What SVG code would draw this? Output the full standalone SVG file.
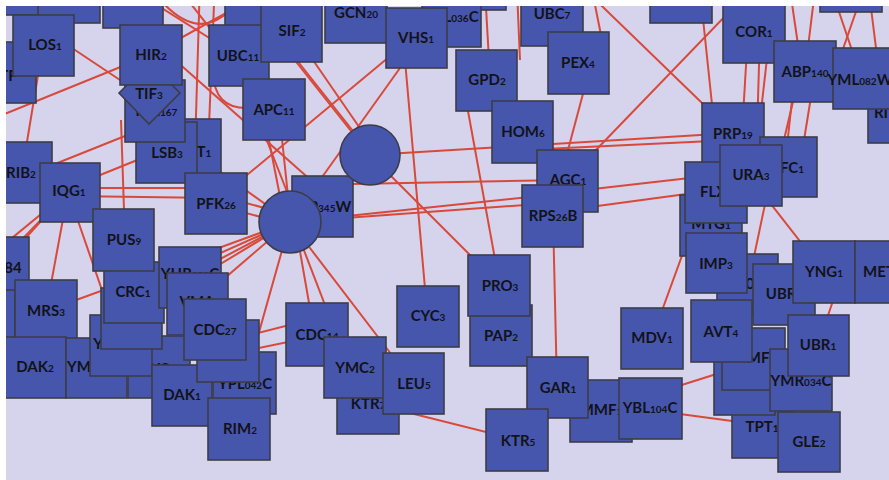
<svg xmlns="http://www.w3.org/2000/svg" width="889" height="480" viewBox="0 0 889 480">
<style>
.bg{fill:#d5d4ec}
.n rect,.n circle,.n polygon{fill:#4656ad;stroke:#3c3c48;stroke-width:1.6}
.n text{font-family:Lato,"Open Sans","DejaVu Sans",sans-serif;font-weight:700;font-size:15px;fill:#121218;text-anchor:middle}
.s{font-size:10px}
#edges line,#edges path{stroke:#d9493a;stroke-width:2;fill:none}
</style>
<rect class="bg" x="0" y="0" width="889" height="480"/>
<g id="edges">
<line x1="-10" y1="120" x2="150" y2="55"/>
<line x1="45" y1="30" x2="150" y2="100"/>
<line x1="43" y1="45" x2="22" y2="172"/>
<line x1="133" y1="-10" x2="238" y2="56"/>
<line x1="255" y1="-3" x2="150" y2="55"/>
<line x1="200" y1="-20" x2="195" y2="150"/>
<line x1="215" y1="-20" x2="208" y2="150"/>
<line x1="180" y1="-10" x2="274" y2="110"/>
<path d="M213 70 Q213 110 250 108"/>
<path d="M165 5 Q200 40 230 10"/>
<line x1="255" y1="10" x2="370" y2="155"/>
<line x1="265" y1="20" x2="372" y2="155"/>
<line x1="275" y1="5" x2="375" y2="150"/>
<line x1="370" y1="155" x2="733" y2="133"/>
<line x1="370" y1="155" x2="500" y2="285"/>
<line x1="400" y1="68" x2="290" y2="222"/>
<line x1="395" y1="52" x2="217" y2="200"/>
<line x1="405" y1="60" x2="426" y2="300"/>
<line x1="466" y1="100" x2="497" y2="270"/>
<line x1="553" y1="216" x2="557" y2="388"/>
<line x1="290" y1="222" x2="567" y2="193"/>
<line x1="290" y1="222" x2="553" y2="203"/>
<line x1="300" y1="185" x2="567" y2="180"/>
<line x1="298" y1="240" x2="312" y2="320"/>
<line x1="300" y1="240" x2="350" y2="370"/>
<line x1="300" y1="235" x2="414" y2="384"/>
<line x1="390" y1="408" x2="518" y2="440"/>
<line x1="290" y1="222" x2="245" y2="382"/>
<line x1="230" y1="340" x2="317" y2="318"/>
<line x1="240" y1="352" x2="317" y2="336"/>
<line x1="290" y1="222" x2="190" y2="275"/>
<line x1="290" y1="222" x2="197" y2="302"/>
<line x1="290" y1="222" x2="133" y2="292"/>
<line x1="290" y1="222" x2="46" y2="311"/>
<line x1="290" y1="222" x2="131" y2="318"/>
<line x1="217" y1="195" x2="290" y2="215"/>
<line x1="217" y1="205" x2="290" y2="225"/>
<line x1="68" y1="188" x2="217" y2="188"/>
<line x1="68" y1="196" x2="217" y2="198"/>
<line x1="68" y1="192" x2="0" y2="262"/>
<line x1="68" y1="192" x2="-5" y2="252"/>
<line x1="60" y1="200" x2="-5" y2="272"/>
<line x1="68" y1="192" x2="46" y2="311"/>
<line x1="68" y1="192" x2="121" y2="345"/>
<line x1="121" y1="120" x2="125" y2="240"/>
<line x1="265" y1="120" x2="285" y2="222"/>
<line x1="280" y1="120" x2="290" y2="215"/>
<line x1="255" y1="110" x2="300" y2="225"/>
<line x1="190" y1="150" x2="290" y2="222"/>
<line x1="175" y1="60" x2="322" y2="190"/>
<line x1="20" y1="178" x2="150" y2="126"/>
<line x1="68" y1="188" x2="167" y2="148"/>
<line x1="575" y1="-20" x2="733" y2="133"/>
<line x1="760" y1="-20" x2="567" y2="180"/>
<line x1="700" y1="-10" x2="715" y2="133"/>
<line x1="748" y1="32" x2="742" y2="133"/>
<line x1="760" y1="32" x2="757" y2="133"/>
<line x1="770" y1="32" x2="760" y2="120"/>
<line x1="800" y1="72" x2="778" y2="165"/>
<line x1="795" y1="72" x2="785" y2="165"/>
<line x1="815" y1="72" x2="800" y2="165"/>
<line x1="790" y1="-10" x2="802" y2="72"/>
<line x1="815" y1="-10" x2="805" y2="72"/>
<line x1="835" y1="0" x2="862" y2="80"/>
<line x1="860" y1="0" x2="835" y2="72"/>
<line x1="870" y1="0" x2="880" y2="80"/>
<line x1="523" y1="150" x2="733" y2="140"/>
<line x1="588" y1="75" x2="560" y2="180"/>
<line x1="592" y1="-10" x2="602" y2="40"/>
<line x1="485" y1="-10" x2="489" y2="60"/>
<line x1="517" y1="-10" x2="520" y2="60"/>
<line x1="567" y1="192" x2="716" y2="175"/>
<line x1="553" y1="212" x2="716" y2="190"/>
<line x1="768" y1="190" x2="748" y2="285"/>
<line x1="760" y1="190" x2="824" y2="272"/>
<line x1="695" y1="220" x2="652" y2="338"/>
<line x1="840" y1="280" x2="818" y2="345"/>
<line x1="650" y1="395" x2="745" y2="365"/>
<line x1="650" y1="410" x2="762" y2="425"/>
</g>
<!-- top row, mostly cut off -->
<g id="n-top1" class="n"><rect x="-21" y="-46" width="61" height="61"/></g>
<g id="n-top2" class="n"><rect x="38" y="-38" width="62" height="61"/></g>
<g id="n-top3" class="n"><rect x="103" y="-33" width="60" height="61"/></g>
<g id="n-top4" class="n"><rect x="225" y="-34" width="60" height="61"/></g>
<!-- upper left cluster -->
<g id="n-TF" class="n"><rect x="-25" y="42" width="61" height="61"/><text x="8" y="81">TF</text></g>
<g id="n-LOS1" class="n"><rect x="13" y="15" width="61" height="61"/><text x="45" y="50">LOS<tspan class="s">1</tspan></text></g>
<g id="n-T1" class="n"><rect x="160" y="119" width="61" height="62"/><text x="204" y="157">T<tspan class="s">1</tspan></text></g>
<g id="n-LSB3" class="n"><rect x="136" y="122" width="61" height="61"/><text x="167" y="158">LSB<tspan class="s">3</tspan></text></g>
<g id="n-Y167" class="n"><rect x="125" y="80" width="60" height="62"/><text x="155" y="116">YLR<tspan class="s">167</tspan></text></g>
<g id="n-HIR2" class="n"><rect x="120" y="25" width="62" height="60"/><text x="151" y="60">HIR<tspan class="s">2</tspan></text></g>
<g id="n-TIF3" class="n"><polygon points="119,93 127,85 172,85 180,93 149,124"/><text x="149" y="99">TIF<tspan class="s">3</tspan></text></g>
<g id="n-UBC11" class="n"><rect x="209" y="25" width="60" height="61"/><text x="238" y="61">UBC<tspan class="s">11</tspan></text></g>
<g id="n-SIF2" class="n"><rect x="261" y="0" width="61" height="62"/><text x="292" y="36">SIF<tspan class="s">2</tspan></text></g>
<g id="n-APC11" class="n"><rect x="243" y="79" width="62" height="61"/><text x="274" y="115">APC<tspan class="s">11</tspan></text></g>
<!-- upper middle -->
<g id="n-GCN20" class="n"><rect x="325" y="-18" width="62" height="61"/><text x="356" y="18">GCN<tspan class="s">20</tspan></text></g>
<g id="n-top5" class="n"><rect x="447" y="-51" width="59" height="61"/></g>
<g id="n-L036C" class="n"><rect x="422" y="-14" width="59" height="61"/><text x="461" y="22">L<tspan class="s">036</tspan>C</text></g>
<g id="n-VHS1" class="n"><rect x="386" y="8" width="61" height="60"/><text x="416" y="43">VHS<tspan class="s">1</tspan></text></g>
<g id="n-UBC7" class="n"><rect x="521" y="-15" width="62" height="61"/><text x="552" y="19">UBC<tspan class="s">7</tspan></text></g>
<g id="n-PEX4" class="n"><rect x="548" y="32" width="61" height="62"/><text x="578" y="68">PEX<tspan class="s">4</tspan></text></g>
<g id="n-GPD2" class="n"><rect x="456" y="50" width="61" height="61"/><text x="487" y="85">GPD<tspan class="s">2</tspan></text></g>
<g id="n-HOM6" class="n"><rect x="492" y="101" width="61" height="62"/><text x="523" y="137">HOM<tspan class="s">6</tspan></text></g>
<!-- upper right -->
<g id="n-top6" class="n"><rect x="650" y="-38" width="62" height="61"/></g>
<g id="n-COR1" class="n"><rect x="723" y="2" width="62" height="61"/><text x="754" y="37">COR<tspan class="s">1</tspan></text></g>
<g id="n-top7" class="n"><rect x="820" y="-49" width="62" height="61"/></g>
<g id="n-RI" class="n"><rect x="868" y="82" width="62" height="61"/><text x="881" y="118">RI</text></g>
<g id="n-ABP140" class="n"><rect x="774" y="41" width="62" height="61"/><text x="805" y="77">ABP<tspan class="s">140</tspan></text></g>
<g id="n-YML082W" class="n"><rect x="833" y="48" width="62" height="61"/><text x="860" y="85">YML<tspan class="s">082</tspan>W</text></g>
<!-- left side -->
<g id="n-RIB2" class="n"><rect x="-9" y="142" width="61" height="61"/><text x="21" y="178">RIB<tspan class="s">2</tspan></text></g>
<g id="n-IQG1" class="n"><rect x="40" y="163" width="60" height="59"/><text x="69" y="196">IQG<tspan class="s">1</tspan></text></g>
<g id="n-PFK26" class="n"><rect x="185" y="173" width="62" height="61"/><text x="216" y="209">PFK<tspan class="s">26</tspan></text></g>
<g id="n-84" class="n"><rect x="-32" y="237" width="61" height="61"/><text class="s" x="13" y="273">84</text></g>
<g id="n-left1" class="n"><rect x="-46" y="290" width="61" height="61"/></g>
<g id="n-MRS3" class="n"><rect x="15" y="280" width="62" height="62"/><text x="46" y="316">MRS<tspan class="s">3</tspan></text></g>
<g id="n-DAK2" class="n"><rect x="5" y="337" width="61" height="61"/><text x="35" y="372">DAK<tspan class="s">2</tspan></text></g>
<g id="n-YC" class="n"><rect x="128" y="336" width="62" height="62"/><text x="160" y="374">YC</text></g>
<g id="n-YM" class="n"><rect x="66" y="338" width="61" height="60"/><text x="79" y="372">YM</text></g>
<g id="n-Y" class="n"><rect x="90" y="315" width="62" height="61"/><text x="98" y="349">Y</text></g>
<g id="n-box-d" class="n"><rect x="101" y="288" width="61" height="61"/></g>
<g id="n-CRC1" class="n"><rect x="104" y="262" width="60" height="61"/><text x="133" y="297">CRC<tspan class="s">1</tspan></text></g>
<g id="n-PUS9" class="n"><rect x="93" y="209" width="61" height="62"/><text x="124" y="245">PUS<tspan class="s">9</tspan></text></g>
<g id="n-YHR" class="n"><rect x="159" y="247" width="62" height="61"/><text x="190" y="279">YHR<tspan class="s">020</tspan>C</text></g>
<g id="n-VMA" class="n"><rect x="167" y="273" width="61" height="62"/><text x="197" y="307">VMA</text></g>
<g id="n-YPL042C" class="n"><rect x="213" y="352" width="63" height="62"/><text x="245" y="389">YPL<tspan class="s">042</tspan>C</text></g>
<g id="n-DAK1" class="n"><rect x="152" y="365" width="60" height="61"/><text x="182" y="400">DAK<tspan class="s">1</tspan></text></g>
<g id="n-box-f" class="n"><rect x="197" y="320" width="62" height="62"/></g>
<g id="n-CDC27" class="n"><rect x="184" y="299" width="62" height="61"/><text x="215" y="335">CDC<tspan class="s">27</tspan></text></g>
<g id="n-RIM2" class="n"><rect x="208" y="398" width="62" height="62"/><text x="240" y="434">RIM<tspan class="s">2</tspan></text></g>
<!-- hubs -->
<g id="n-345W" class="n"><rect x="292" y="176" width="61" height="61"/><text x="330" y="212">P<tspan class="s">345</tspan>W</text></g>
<g id="n-hub2" class="n"><circle cx="290" cy="222" r="31"/></g>
<g id="n-hub1" class="n"><circle cx="370" cy="155" r="30"/></g>
<!-- lower middle -->
<g id="n-CDC14" class="n"><rect x="286" y="303" width="62" height="63"/><text x="317" y="340">CDC<tspan class="s">14</tspan></text></g>
<g id="n-KTR7" class="n"><rect x="337" y="373" width="62" height="61"/><text x="368" y="409">KTR<tspan class="s">7</tspan></text></g>
<g id="n-YMC2" class="n"><rect x="324" y="337" width="62" height="61"/><text x="355" y="373">YMC<tspan class="s">2</tspan></text></g>
<g id="n-LEU5" class="n"><rect x="383" y="353" width="61" height="61"/><text x="414" y="389">LEU<tspan class="s">5</tspan></text></g>
<g id="n-CYC3" class="n"><rect x="397" y="286" width="62" height="61"/><text x="428" y="321">CYC<tspan class="s">3</tspan></text></g>
<g id="n-PAP2" class="n"><rect x="470" y="305" width="62" height="61"/><text x="501" y="341">PAP<tspan class="s">2</tspan></text></g>
<g id="n-PRO3" class="n"><rect x="468" y="255" width="62" height="61"/><text x="500" y="291">PRO<tspan class="s">3</tspan></text></g>
<g id="n-AGC1" class="n"><rect x="537" y="150" width="61" height="62"/><text x="568" y="185">AGC<tspan class="s">1</tspan></text></g>
<g id="n-RPS26B" class="n"><rect x="522" y="185" width="61" height="62"/><text x="553" y="221">RPS<tspan class="s">26</tspan>B</text></g>
<g id="n-MMF1" class="n"><rect x="570" y="380" width="62" height="62"/><text x="601" y="415">MMF<tspan class="s">1</tspan></text></g>
<g id="n-GAR1" class="n"><rect x="527" y="357" width="61" height="61"/><text x="558" y="393">GAR<tspan class="s">1</tspan></text></g>
<g id="n-KTR5" class="n"><rect x="486" y="409" width="62" height="62"/><text x="518" y="446">KTR<tspan class="s">5</tspan></text></g>
<g id="n-YBL104C" class="n"><rect x="619" y="378" width="63" height="61"/><text x="650" y="413">YBL<tspan class="s">104</tspan>C</text></g>
<!-- right cluster -->
<g id="n-PRP19" class="n"><rect x="702" y="103" width="62" height="61"/><text x="733" y="139">PRP<tspan class="s">19</tspan></text></g>
<g id="n-FC1" class="n"><rect x="760" y="137" width="57" height="60"/><text x="792" y="173">FC<tspan class="s">1</tspan></text></g>
<g id="n-MTG1" class="n"><rect x="680" y="195" width="62" height="61"/><text x="711" y="229">MTG<tspan class="s">1</tspan></text></g>
<g id="n-FLX1" class="n"><rect x="685" y="162" width="62" height="61"/><text x="716" y="197">FLX<tspan class="s">1</tspan></text></g>
<g id="n-URA3" class="n"><rect x="720" y="145" width="62" height="61"/><text x="751" y="180">URA<tspan class="s">3</tspan></text></g>
<g id="n-box-0" class="n"><rect x="717" y="254" width="61" height="62"/><text class="s" x="750" y="289">0</text></g>
<g id="n-IMP3" class="n"><rect x="686" y="233" width="61" height="60"/><text x="716" y="269">IMP<tspan class="s">3</tspan></text></g>
<g id="n-UBR2" class="n"><rect x="753" y="264" width="62" height="61"/><text x="784" y="299">UBR<tspan class="s">2</tspan></text></g>
<g id="n-YNG1" class="n"><rect x="793" y="241" width="62" height="62"/><text x="824" y="277">YNG<tspan class="s">1</tspan></text></g>
<g id="n-MET" class="n"><rect x="855" y="241" width="62" height="62"/><text x="879" y="277">MET</text></g>
<g id="n-MDV1" class="n"><rect x="621" y="308" width="62" height="61"/><text x="652" y="343">MDV<tspan class="s">1</tspan></text></g>
<g id="n-TPT1" class="n"><rect x="732" y="397" width="61" height="61"/><text x="762" y="432">TPT<tspan class="s">1</tspan></text></g>
<g id="n-box-g" class="n"><rect x="714" y="354" width="61" height="61"/></g>
<g id="n-MF1" class="n"><rect x="722" y="328" width="63" height="62"/><text x="761" y="363">MF<tspan class="s">1</tspan></text></g>
<g id="n-AVT4" class="n"><rect x="691" y="300" width="61" height="62"/><text x="721" y="337">AVT<tspan class="s">4</tspan></text></g>
<g id="n-YMR034C" class="n"><rect x="770" y="349" width="62" height="62"/><text x="801" y="386">YMR<tspan class="s">034</tspan>C</text></g>
<g id="n-UBR1" class="n"><rect x="788" y="315" width="61" height="61"/><text x="818" y="350">UBR<tspan class="s">1</tspan></text></g>
<g id="n-GLE2" class="n"><rect x="778" y="412" width="62" height="60"/><text x="809" y="447">GLE<tspan class="s">2</tspan></text></g>
<!-- white margin along the top and left edges -->
<rect x="0" y="0" width="6" height="480" fill="#ffffff"/>
<rect x="0" y="0" width="889" height="6" fill="#ffffff"/>
</svg>
